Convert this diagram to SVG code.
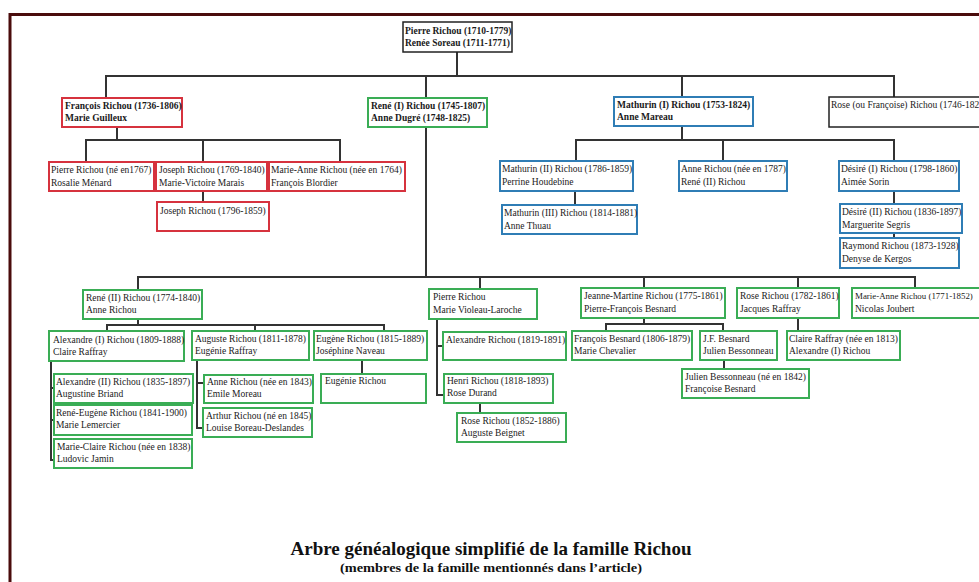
<svg xmlns="http://www.w3.org/2000/svg" width="979" height="582" viewBox="0 0 979 582">
<style>
.n{fill:#fff;stroke-width:2}
.r{stroke:#d6323e}.g{stroke:#3aad55}.b{stroke:#2f7db5}.k{stroke:#222;stroke-width:1.5}
text{font-family:"Liberation Serif","Times New Roman",serif;font-size:9.5px;fill:#1a1a1a}
.bd{font-weight:bold}
.c{fill:none;stroke:#333;stroke-width:2}
.t{font-weight:bold;text-anchor:middle;fill:#111}
</style>
<rect width="979" height="582" fill="#fff"/>
<path d="M10,582 V14.5 H979" fill="none" stroke="#4a0c0c" stroke-width="3"/>
<g id="connectors" class="c">
<path d="M457,52 V76 M106,98 V76 H894 V97 M426,76 V98 M682,76 V97"/>
<path d="M117,127 V140 M86,162 V140 H340 V162 M203,140 V162 M203,191 V202"/>
<path d="M682,126 V140 M576,161 V140 H894 V161 M723,140 V161 M575,191 V205 M894,191 V204 M894,233 V238"/>
<path d="M426,127 V277 M138,290 V277 H915 V288 M480,277 V289 M644,277 V288 M798,277 V288"/>
<path d="M138,319 V325 M107,331 V325 H384 V331 M255,325 V331"/>
<path d="M51,361 V460 H54 M51,388 H54 M51,420 H54"/>
<path d="M197,360 V428 H203 M197,383 H204 M362,360 V374"/>
<path d="M437,319 V395 H444 M437,346 H443 M480,403 V413"/>
<path d="M644,318 V324 M606,331 V324 H723 V331 M724,360 V369 M798,318 V331"/>
</g>
<g id="root"><rect class="n k" x="403" y="22" width="109" height="30"/><text class="bd" x="405" y="34">Pierre Richou (1710-1779)</text><text class="bd" x="405" y="46">Renée Soreau (1711-1771)</text></g>
<g id="francois"><rect class="n r" x="62" y="98" width="120" height="29"/><text class="bd" x="65" y="109">François Richou (1736-1806)</text><text class="bd" x="65" y="121">Marie Guilleux</text></g>
<g id="rene1"><rect class="n g" x="368" y="98" width="119" height="29"/><text class="bd" x="371" y="109">René (I) Richou (1745-1807)</text><text class="bd" x="371" y="121">Anne Dugré (1748-1825)</text></g>
<g id="mathurin1"><rect class="n b" x="614" y="97" width="139" height="29"/><text class="bd" x="617" y="108">Mathurin (I) Richou (1753-1824)</text><text class="bd" x="617" y="120">Anne Mareau</text></g>
<g id="rose-ou-francoise"><rect class="n k" x="829" y="97" width="160" height="30"/><text x="831" y="108">Rose (ou Françoise) Richou (1746-182</text></g>
<g id="pierre-1767"><rect class="n r" x="49" y="162" width="105" height="29"/><text x="51" y="173">Pierre Richou (né en1767)</text><text x="51" y="186">Rosalie Ménard</text></g>
<g id="joseph-1769"><rect class="n r" x="156" y="162" width="111" height="29"/><text x="159" y="173">Joseph Richou (1769-1840)</text><text x="159" y="186">Marie-Victoire Marais</text></g>
<g id="marieanne-1764"><rect class="n r" x="269" y="162" width="136" height="29"/><text x="271" y="173">Marie-Anne Richou (née en 1764)</text><text x="271" y="186">François Blordier</text></g>
<g id="joseph-1796"><rect class="n r" x="157" y="202" width="112" height="29"/><text x="160" y="214">Joseph Richou (1796-1859)</text></g>
<g id="mathurin2"><rect class="n b" x="500" y="161" width="133" height="30"/><text x="502" y="172">Mathurin (II) Richou (1786-1859)</text><text x="502" y="185">Perrine Houdebine</text></g>
<g id="mathurin3"><rect class="n b" x="502" y="205" width="135" height="29"/><text x="504" y="216">Mathurin (III) Richou (1814-1881)</text><text x="504" y="229">Anne Thuau</text></g>
<g id="anne-1787"><rect class="n b" x="679" y="161" width="108" height="30"/><text x="681" y="172">Anne Richou (née en 1787)</text><text x="681" y="185">René (II) Richou</text></g>
<g id="desire1"><rect class="n b" x="839" y="161" width="120" height="30"/><text x="841" y="172">Désiré (I) Richou (1798-1860)</text><text x="841" y="185">Aimée Sorin</text></g>
<g id="desire2"><rect class="n b" x="840" y="204" width="122" height="29"/><text x="842" y="215">Désiré (II) Richou (1836-1897)</text><text x="842" y="228">Marguerite Segris</text></g>
<g id="raymond"><rect class="n b" x="840" y="238" width="119" height="30"/><text x="842" y="249">Raymond Richou (1873-1928)</text><text x="842" y="262">Denyse de Kergos</text></g>
<g id="rene2"><rect class="n g" x="83" y="290" width="119" height="29"/><text x="86" y="301">René (II) Richou (1774-1840)</text><text x="86" y="313">Anne Richou</text></g>
<g id="pierre-violeau"><rect class="n g" x="429" y="289" width="108" height="30"/><text x="433" y="300">Pierre Richou</text><text x="433" y="313">Marie Violeau-Laroche</text></g>
<g id="jeanne-martine"><rect class="n g" x="581" y="288" width="144" height="30"/><text x="584" y="299">Jeanne-Martine Richou (1775-1861)</text><text x="584" y="312">Pierre-François Besnard</text></g>
<g id="rose-1782"><rect class="n g" x="737" y="288" width="102" height="30"/><text x="740" y="299">Rose Richou (1782-1861)</text><text x="740" y="312">Jacques Raffray</text></g>
<g id="marieanne-1771"><rect class="n g" x="852" y="288" width="130" height="30"/><text x="855" y="299" style="font-size:8.9px">Marie-Anne Richou (1771-1852)</text><text x="855" y="312">Nicolas Joubert</text></g>
<g id="alexandre1"><rect class="n g" x="49" y="331" width="135" height="30"/><text x="53" y="343">Alexandre (I) Richou (1809-1888)</text><text x="53" y="355">Claire Raffray</text></g>
<g id="auguste"><rect class="n g" x="192" y="331" width="117" height="29"/><text x="195" y="342">Auguste Richou (1811-1878)</text><text x="195" y="354">Eugénie Raffray</text></g>
<g id="eugene"><rect class="n g" x="314" y="331" width="113" height="29"/><text x="316" y="342">Eugène Richou (1815-1889)</text><text x="316" y="354">Joséphine Naveau</text></g>
<g id="alexandre2"><rect class="n g" x="54" y="374" width="139" height="29"/><text x="56" y="385">Alexandre (II) Richou (1835-1897)</text><text x="56" y="397">Augustine Briand</text></g>
<g id="rene-eugene"><rect class="n g" x="54" y="405" width="138" height="30"/><text x="56" y="416">René-Eugène Richou (1841-1900)</text><text x="56" y="428">Marie Lemercier</text></g>
<g id="marie-claire"><rect class="n g" x="54" y="439" width="138" height="29"/><text x="57" y="450">Marie-Claire Richou (née en 1838)</text><text x="57" y="462">Ludovic Jamin</text></g>
<g id="anne-1843"><rect class="n g" x="204" y="375" width="109" height="28"/><text x="207" y="385">Anne Richou (née en 1843)</text><text x="207" y="397">Emile Moreau</text></g>
<g id="arthur"><rect class="n g" x="203" y="408" width="109" height="29"/><text x="206" y="419">Arthur Richou (né en 1845)</text><text x="206" y="431">Louise Boreau-Deslandes</text></g>
<g id="eugenie"><rect class="n g" x="321" y="374" width="105" height="29"/><text x="325" y="384">Eugénie Richou</text></g>
<g id="alexandre-1819"><rect class="n g" x="443" y="332" width="123" height="28"/><text x="446" y="343">Alexandre Richou (1819-1891)</text></g>
<g id="henri"><rect class="n g" x="444" y="374" width="109" height="29"/><text x="447" y="384">Henri Richou (1818-1893)</text><text x="447" y="396">Rose Durand</text></g>
<g id="rose-1852"><rect class="n g" x="457" y="413" width="109" height="29"/><text x="461" y="424">Rose Richou (1852-1886)</text><text x="461" y="436">Auguste Beignet</text></g>
<g id="francois-besnard"><rect class="n g" x="572" y="331" width="120" height="29"/><text x="574" y="342">François Besnard (1806-1879)</text><text x="574" y="354">Marie Chevalier</text></g>
<g id="jf-besnard"><rect class="n g" x="700" y="331" width="77" height="29"/><text x="703" y="342">J.F. Besnard</text><text x="703" y="354">Julien Bessonneau</text></g>
<g id="julien"><rect class="n g" x="682" y="369" width="127" height="29"/><text x="685" y="380">Julien Bessonneau (né en 1842)</text><text x="685" y="392">Françoise Besnard</text></g>
<g id="claire"><rect class="n g" x="787" y="331" width="113" height="29"/><text x="789" y="342">Claire Raffray (née en 1813)</text><text x="789" y="354">Alexandre (I) Richou</text></g>
<text class="t" x="491" y="555" textLength="401" lengthAdjust="spacingAndGlyphs" style="font-size:19px">Arbre généalogique simplifié de la famille Richou</text>
<text class="t" x="491" y="572" style="font-size:13.5px" textLength="302" lengthAdjust="spacingAndGlyphs">(membres de la famille mentionnés dans l’article)</text>
</svg>
